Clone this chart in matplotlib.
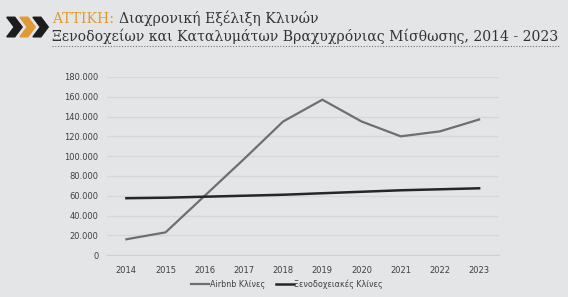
import matplotlib.pyplot as plt
from matplotlib.patches import Polygon
from matplotlib.lines import Line2D

years = ['2014', '2015', '2016', '2017', '2018', '2019', '2020', '2021', '2022', '2023']
airbnb = [16000, 23000, 60000, 97000, 135000, 157000, 135000, 120000, 125000, 137000]
hotels = [57500, 58000, 59000, 60000, 61000, 62500, 64000, 65500, 66500, 67500]

bg = '#e4e5e6'
fig = plt.figure(figsize=(5.68, 2.97), dpi=100, facecolor=bg)
ax = fig.add_axes([0.188, 0.141, 0.69, 0.6], facecolor=bg)

x = list(range(len(years)))
ax.plot(x, airbnb, color='#6f6f6f', linewidth=1.6, label='Airbnb Κλίνες')
ax.plot(x, hotels, color='#262626', linewidth=1.8, label='Ξενοδοχειακές Κλίνες')

ax.set_xlim(-0.5, len(years) - 0.5)
ax.set_ylim(0, 180000)
ax.set_yticks(range(0, 180001, 20000))
ax.set_yticklabels(['0'] + [f'{v // 1000}.000' for v in range(20000, 180001, 20000)])
ax.set_xticks(x)
ax.set_xticklabels(years)
ax.tick_params(length=0, labelsize=6, labelcolor='#404040')
ax.tick_params(axis='x', pad=8)
ax.tick_params(axis='y', pad=6)
ax.grid(axis='y', color='#d6d7d8', linewidth=1)
ax.set_axisbelow(True)
for s in ['top', 'right', 'left']:
    ax.spines[s].set_visible(False)
ax.spines['bottom'].set_color('#d0d0d0')

ax.legend(loc='center', bbox_to_anchor=(0.46, -0.165), ncol=2, frameon=False,
          fontsize=5.8, handlelength=2.2, handletextpad=0.1, labelcolor='#404040',
          columnspacing=1.4)

# τίτλος
t1 = fig.text(0.092, 0.923, 'ΑΤΤΙΚΗ:', color='#e09a35', fontsize=10.1, family='DejaVu Serif',
              va='baseline')
ax.annotate('Διαχρονική Εξέλιξη Κλινών', xy=(1, 0), xycoords=t1, xytext=(3, 0),
            textcoords='offset points', color='#333333', fontsize=10.1,
            family='DejaVu Serif', va='bottom', annotation_clip=False)
fig.text(0.092, 0.862, 'Ξενοδοχείων και Καταλυμάτων Βραχυχρόνιας Μίσθωσης, 2014 - 2023',
         color='#333333', fontsize=10.1, family='DejaVu Serif', va='baseline')
fig.add_artist(Line2D([0.092, 0.986], [0.846, 0.846], color='#777777', linewidth=0.8,
                      linestyle=(0, (1, 1.5))))

# εικονίδιο: τρία βέλη
def chevron(x0, color):
    w, h, t = 0.027, 0.066, 0.014
    yc = 0.909
    pts = [(x0, yc + h / 2), (x0 + t, yc + h / 2), (x0 + w, yc), (x0 + t, yc - h / 2),
           (x0, yc - h / 2), (x0 + w - t, yc)]
    fig.add_artist(Polygon(pts, closed=True, transform=fig.transFigure, color=color))

chevron(0.012, '#1c1c1c')
chevron(0.035, '#e09a35')
chevron(0.058, '#1c1c1c')

plt.savefig('out.png', dpi=100, facecolor=bg)
